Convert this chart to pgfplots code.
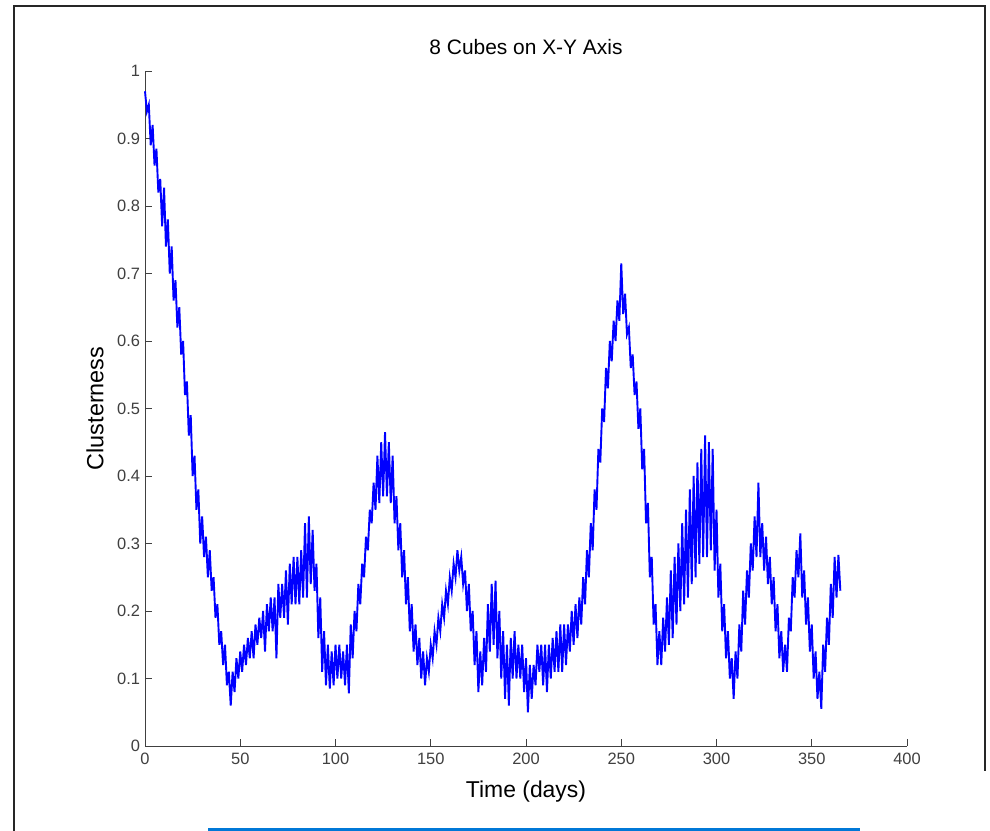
\documentclass[border=0pt]{standalone}
\usepackage{fontspec}
\setmainfont{Liberation Sans}
\usepackage{pgfplots}
\pgfplotsset{compat=1.18}
\definecolor{axgray}{RGB}{64,64,64}
\definecolor{winblue}{RGB}{0,120,215}
\begin{document}
\begin{tikzpicture}[x=1bp,y=1bp]
\useasboundingbox (0,0) rectangle (990,831);
\fill[white] (0,0) rectangle (990,831);
\draw[line width=2bp,black!85] (14,0) -- (14,825) -- (985,825) -- (985,60);
\draw[line width=3bp,winblue] (208,1.5) -- (860,1.5);
\begin{axis}[
  at={(145bp,85bp)}, anchor=south west,
  scale only axis, width=762bp, height=675bp,
  xmin=0, xmax=400, ymin=0, ymax=1,
  axis lines*=left,
  axis line style={axgray, line width=0.9bp},
  tick style={axgray, line width=0.9bp},
  tick align=inside,
  major tick length=7bp,
  xtick={0,50,...,400},
  ytick={0,0.1,0.2,0.3,0.4,0.5,0.6,0.7,0.8,0.9,1},
  yticklabels={0,0.1,0.2,0.3,0.4,0.5,0.6,0.7,0.8,0.9,1},
  /pgf/number format/assume math mode=true,
  tick label style={font=\fontsize{16.5}{19}\selectfont, text=axgray},
  yticklabel style={xshift=-1.5bp},
  xticklabel style={yshift=-4bp},
  title={8 Cubes on X-Y Axis},
  title style={font=\fontsize{21}{25}\selectfont, at={(axis description cs:0.5,1)}, anchor=center, yshift=18bp},
  xlabel={Time (days)},
  x label style={font=\fontsize{23}{27}\selectfont, at={(axis description cs:0.5,0)}, anchor=center, yshift=-46bp},
  ylabel={Clusterness},
  y label style={font=\fontsize{23.5}{27}\selectfont, at={(axis description cs:-0.0656,0.5)}, anchor=center},
  clip=false,
]
\addplot[color={rgb,255:red,0;green,0;blue,255}, line width=1.9bp] coordinates {
(0,0.97)(1,0.94)(2,0.95)(3,0.89)(4,0.92)(5,0.86)(6,0.885)(7,0.82)(8,0.84)(9,0.77)
(10,0.827)(11,0.74)(12,0.78)(13,0.70)(14,0.74)(15,0.66)(16,0.69)(17,0.62)(18,0.65)(19,0.58)
(20,0.60)(21,0.52)(22,0.54)(23,0.46)(24,0.49)(25,0.40)(26,0.43)(27,0.35)(28,0.38)(29,0.30)
(30,0.34)(31,0.28)(32,0.31)(33,0.25)(34,0.29)(35,0.23)(36,0.25)(37,0.19)(38,0.21)(39,0.15)
(40,0.17)(41,0.12)(42,0.15)(43,0.09)(44,0.11)(45,0.06)(46,0.11)(47,0.08)(48,0.13)(49,0.10)
(50,0.14)(51,0.11)(52,0.15)(53,0.12)(54,0.16)(55,0.13)(56,0.17)(57,0.13)(58,0.18)(59,0.15)
(60,0.19)(61,0.16)(62,0.20)(63,0.14)(64,0.21)(65,0.17)(66,0.22)(67,0.17)(68,0.22)(69,0.13)
(70,0.24)(71,0.19)(72,0.24)(73,0.19)(74,0.26)(75,0.18)(76,0.27)(77,0.21)(78,0.28)(79,0.21)
(80,0.28)(81,0.21)(82,0.29)(83,0.22)(84,0.33)(85,0.22)(86,0.34)(87,0.24)(88,0.32)(89,0.23)
(90,0.27)(91,0.16)(92,0.22)(93,0.11)(94,0.17)(95,0.09)(96,0.15)(97,0.085)(98,0.14)(99,0.09)
(100,0.15)(101,0.10)(102,0.15)(103,0.10)(104,0.14)(105,0.09)(106,0.15)(107,0.078)(108,0.18)(109,0.13)
(110,0.20)(111,0.17)(112,0.24)(113,0.21)(114,0.27)(115,0.25)(116,0.31)(117,0.29)(118,0.35)(119,0.33)
(120,0.39)(121,0.35)(122,0.43)(123,0.36)(124,0.45)(125,0.37)(126,0.465)(127,0.37)(128,0.45)(129,0.36)
(130,0.43)(131,0.33)(132,0.37)(133,0.29)(134,0.33)(135,0.25)(136,0.29)(137,0.21)(138,0.25)(139,0.17)
(140,0.21)(141,0.14)(142,0.18)(143,0.12)(144,0.16)(145,0.10)(146,0.14)(147,0.09)(148,0.13)(149,0.11)
(150,0.15)(151,0.13)(152,0.17)(153,0.15)(154,0.19)(155,0.17)(156,0.21)(157,0.19)(158,0.23)(159,0.21)
(160,0.25)(161,0.23)(162,0.27)(163,0.25)(164,0.29)(165,0.26)(166,0.28)(167,0.24)(168,0.26)(169,0.20)
(170,0.24)(171,0.17)(172,0.20)(173,0.12)(174,0.17)(175,0.08)(176,0.14)(177,0.09)(178,0.16)(179,0.11)
(180,0.21)(181,0.14)(182,0.24)(183,0.15)(184,0.245)(185,0.13)(186,0.20)(187,0.10)(188,0.17)(189,0.07)
(190,0.15)(191,0.06)(192,0.16)(193,0.10)(194,0.17)(195,0.10)(196,0.15)(197,0.10)(198,0.15)(199,0.08)
(200,0.13)(201,0.05)(202,0.12)(203,0.07)(204,0.12)(205,0.09)(206,0.15)(207,0.11)(208,0.15)(209,0.09)
(210,0.15)(211,0.08)(212,0.15)(213,0.10)(214,0.16)(215,0.11)(216,0.17)(217,0.11)(218,0.18)(219,0.11)
(220,0.18)(221,0.12)(222,0.18)(223,0.14)(224,0.20)(225,0.15)(226,0.21)(227,0.16)(228,0.22)(229,0.18)
(230,0.25)(231,0.21)(232,0.29)(233,0.25)(234,0.33)(235,0.29)(236,0.38)(237,0.35)(238,0.44)(239,0.42)
(240,0.50)(241,0.48)(242,0.56)(243,0.53)(244,0.60)(245,0.57)(246,0.63)(247,0.60)(248,0.66)(249,0.63)
(250,0.715)(251,0.64)(252,0.67)(253,0.61)(254,0.62)(255,0.56)(256,0.58)(257,0.52)(258,0.54)(259,0.47)
(260,0.50)(261,0.41)(262,0.44)(263,0.33)(264,0.36)(265,0.25)(266,0.28)(267,0.18)(268,0.21)(269,0.12)
(270,0.17)(271,0.12)(272,0.19)(273,0.14)(274,0.22)(275,0.15)(276,0.26)(277,0.16)(278,0.28)(279,0.18)
(280,0.30)(281,0.20)(282,0.33)(283,0.21)(284,0.35)(285,0.22)(286,0.38)(287,0.24)(288,0.40)(289,0.25)
(290,0.42)(291,0.27)(292,0.44)(293,0.28)(294,0.46)(295,0.28)(296,0.45)(297,0.29)(298,0.44)(299,0.26)
(300,0.35)(301,0.22)(302,0.27)(303,0.17)(304,0.21)(305,0.13)(306,0.17)(307,0.10)(308,0.13)(309,0.07)
(310,0.14)(311,0.10)(312,0.18)(313,0.14)(314,0.23)(315,0.18)(316,0.26)(317,0.22)(318,0.30)(319,0.26)
(320,0.34)(321,0.28)(322,0.39)(323,0.28)(324,0.33)(325,0.26)(326,0.31)(327,0.24)(328,0.28)(329,0.21)
(330,0.25)(331,0.17)(332,0.21)(333,0.13)(334,0.17)(335,0.11)(336,0.15)(337,0.11)(338,0.19)(339,0.17)
(340,0.25)(341,0.22)(342,0.29)(343,0.25)(344,0.315)(345,0.22)(346,0.26)(347,0.18)(348,0.22)(349,0.14)
(350,0.18)(351,0.10)(352,0.14)(353,0.07)(354,0.11)(355,0.055)(356,0.15)(357,0.11)(358,0.19)(359,0.15)
(360,0.24)(361,0.19)(362,0.28)(363,0.22)(364,0.283)(365,0.23)
};
\end{axis}
\end{tikzpicture}
\end{document}
